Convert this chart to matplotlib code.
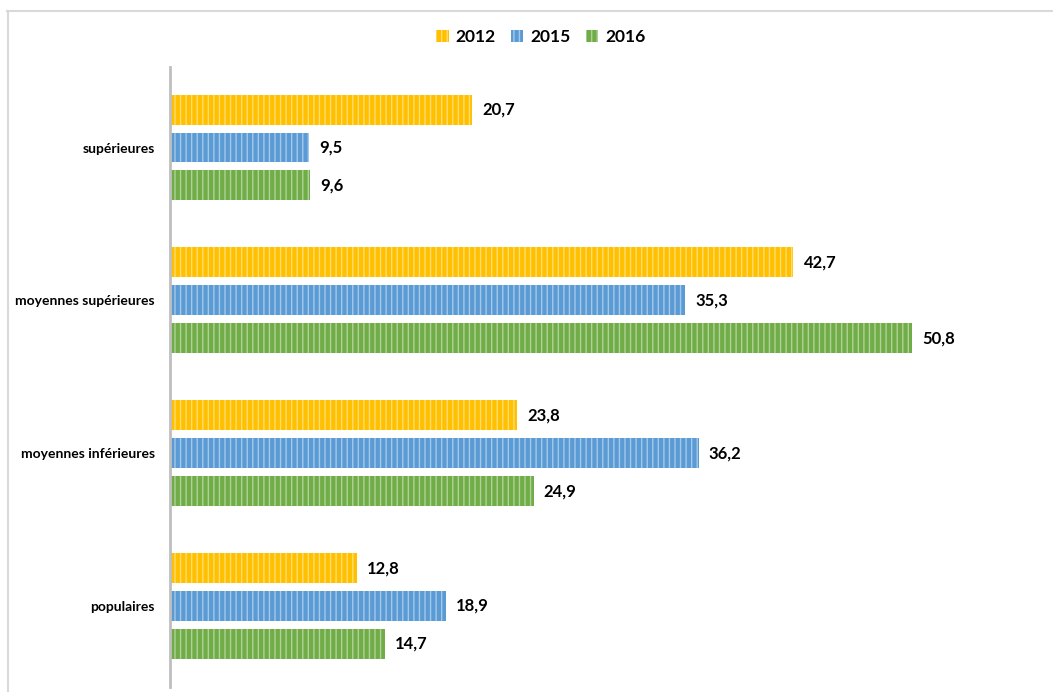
import matplotlib.pyplot as plt
import matplotlib as mpl
import numpy as np

categories = ["populaires", "moyennes inférieures", "moyennes supérieures", "supérieures"]
years = ["2012", "2015", "2016"]
v2012 = [12.8, 23.8, 42.7, 20.7]
v2015 = [18.9, 36.2, 35.3, 9.5]
v2016 = [14.7, 24.9, 50.8, 9.6]

colors = ["#FFC000", "#5B9BD5", "#70AD47"]

plt.rcParams['font.family'] = ['Lato', 'DejaVu Sans']
mpl.rcParams['hatch.linewidth'] = 1.0


def fmt(v):
    return f"{v:.1f}".replace(".", ",")


def main():
    fig = plt.figure(figsize=(10.53, 6.92), dpi=100)
    # thin outer frame (top and left)
    fig.add_artist(plt.Line2D([7 / 1053, 1], [1 - 10.5 / 692] * 2, color="#D9D9D9", lw=1.5))
    fig.add_artist(plt.Line2D([7.5 / 1053] * 2, [0, 1 - 10.5 / 692], color="#D9D9D9", lw=1.5))

    ax = fig.add_axes([170 / 1053, 5 / 692, (1046 - 170) / 1053, (625.5 - 5) / 692])
    y = np.arange(len(categories))
    h = 0.196
    off = 0.248
    series = [v2012, v2015, v2016]
    for i, (vals, col, lab) in enumerate(zip(series, colors, years)):
        pos = y + off * (1 - i)
        bars = ax.barh(pos, vals, height=h, color=col, edgecolor=(1, 1, 1, 0.45),
                       hatch="|||", linewidth=0, label=lab)
        for b, v in zip(bars, vals):
            ax.text(b.get_width() + 0.7, b.get_y() + b.get_height() / 2, fmt(v),
                    va="center", ha="left", fontsize=12, fontweight="bold", color="#000000")

    ax.set_xlim(0, 60)
    ax.set_ylim(-0.53, 3.53)
    ax.set_yticks(y)
    ax.set_yticklabels(categories, fontsize=10, fontweight="bold")
    ax.tick_params(axis="y", length=0, pad=11)
    ax.set_xticks([])
    for s in ["top", "right", "bottom"]:
        ax.spines[s].set_visible(False)
    ax.spines["left"].set_color("#BFBFBF")
    ax.spines["left"].set_linewidth(2)

    fig.legend(loc="center", bbox_to_anchor=(541 / 1053, 1 - 37 / 692), ncol=3,
               frameon=False, prop={"size": 12.5, "weight": "bold"},
               handlelength=0.7, handleheight=0.7, handletextpad=0.4, columnspacing=0.9)
    fig.savefig("out.png", dpi=100)
    plt.close(fig)


if __name__ == "__main__":
    main()
